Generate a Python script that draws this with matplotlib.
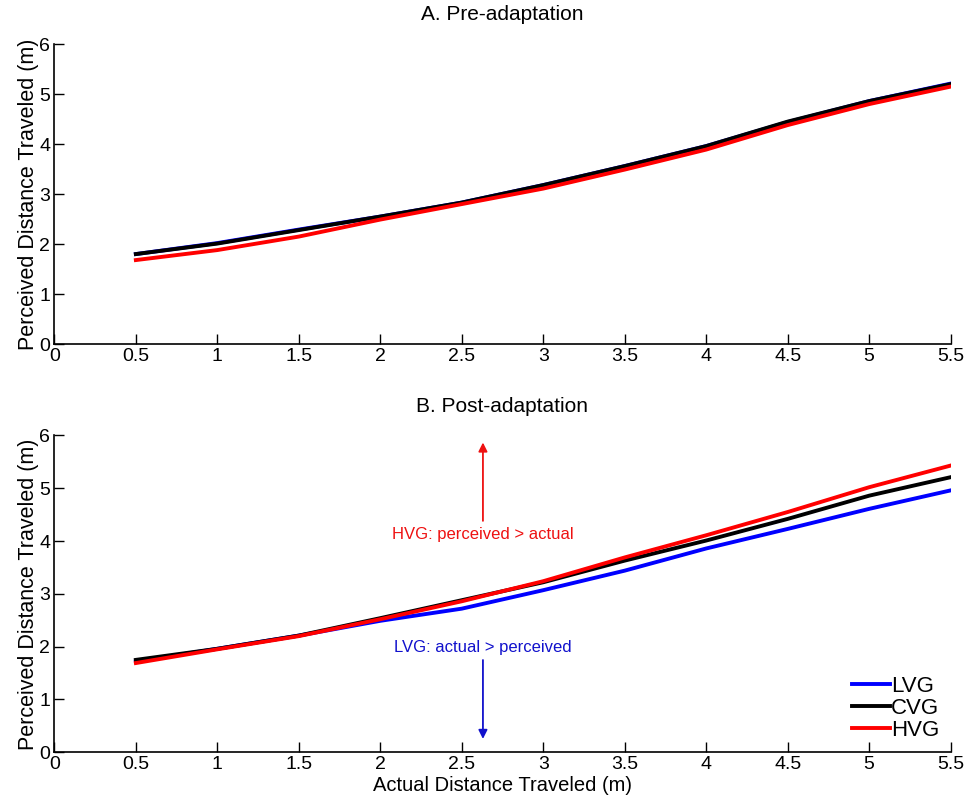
import matplotlib
matplotlib.use("Agg")
import matplotlib.pyplot as plt

plt.rcParams["font.family"] = ["Liberation Sans", "DejaVu Sans"]

# actual distance (m)
distance = [0.5, 1.0, 1.5, 2.0, 2.5, 3.0, 3.5, 4.0, 4.5, 5.0, 5.5]

# A. pre-adaptation perceived distance (m)
pre_lvg = [1.80, 2.02, 2.29, 2.55, 2.83, 3.18, 3.56, 3.96, 4.44, 4.86, 5.21]
pre_cvg = [1.80, 2.01, 2.28, 2.55, 2.83, 3.18, 3.56, 3.96, 4.45, 4.86, 5.20]
pre_hvg = [1.68, 1.88, 2.15, 2.49, 2.80, 3.11, 3.49, 3.89, 4.38, 4.80, 5.15]

# B. post-adaptation perceived distance (m)
post_lvg = [1.72, 1.96, 2.21, 2.49, 2.72, 3.07, 3.44, 3.86, 4.23, 4.61, 4.96]
post_cvg = [1.75, 1.96, 2.21, 2.54, 2.88, 3.22, 3.63, 4.01, 4.42, 4.86, 5.21]
post_hvg = [1.69, 1.95, 2.20, 2.52, 2.86, 3.24, 3.69, 4.11, 4.55, 5.02, 5.43]

groups = ["LVG", "CVG", "HVG"]
colors = ["#0000ff", "#000000", "#ff0000"]

x_ticks = [0, 0.5, 1, 1.5, 2, 2.5, 3, 3.5, 4, 4.5, 5, 5.5]
x_labels = ["0", "0.5", "1", "1.5", "2", "2.5", "3", "3.5", "4", "4.5", "5", "5.5"]
y_ticks = [0, 1, 2, 3, 4, 5, 6]

fig = plt.figure(figsize=(9.71, 8.02), dpi=100)
ax_a = fig.add_axes([0.056, 0.571, 0.923, 0.374])
ax_b = fig.add_axes([0.056, 0.062, 0.923, 0.395])


def style_axes(ax, title):
    ax.set_xlim(0, 5.5)
    ax.set_ylim(0, 6)
    ax.set_xticks(x_ticks)
    ax.set_xticklabels(x_labels)
    ax.set_yticks(y_ticks)
    ax.spines["top"].set_visible(False)
    ax.spines["right"].set_visible(False)
    for s in ("left", "bottom"):
        ax.spines[s].set_linewidth(1.2)
    ax.tick_params(direction="in", length=7, width=1.0, labelsize=14, pad=3)
    ax.set_ylabel("Perceived Distance Traveled (m)", fontsize=15.5, labelpad=0)
    ax.set_title(title, fontsize=15, pad=17)


for vals, c in zip([pre_lvg, pre_cvg, pre_hvg], colors):
    ax_a.plot(distance, vals, color=c, lw=2.8)
style_axes(ax_a, "A. Pre-adaptation")

for vals, c, name in zip([post_lvg, post_cvg, post_hvg], colors, groups):
    ax_b.plot(distance, vals, color=c, lw=2.8, label=name)
style_axes(ax_b, "B. Post-adaptation")
ax_b.set_xlabel("Actual Distance Traveled (m)", fontsize=14.5, labelpad=2)

# annotation arrows
ax_b.annotate("", xy=(2.63, 5.92), xytext=(2.63, 4.33),
              arrowprops=dict(arrowstyle="-|>", color="#ee1111", lw=1.3, mutation_scale=13))
ax_b.text(2.63, 4.13, "HVG: perceived > actual", color="#ee1111", fontsize=12,
          ha="center", va="center")
ax_b.annotate("", xy=(2.63, 0.2), xytext=(2.63, 1.8),
              arrowprops=dict(arrowstyle="-|>", color="#1111cc", lw=1.3, mutation_scale=13))
ax_b.text(2.63, 1.99, "LVG: actual > perceived", color="#1111cc", fontsize=12,
          ha="center", va="center")

leg = ax_b.legend(loc="lower right", frameon=False, fontsize=16, handlelength=1.7,
                  handletextpad=0.05, labelspacing=0.05, borderaxespad=0.1)

fig.savefig("out.png", dpi=100)
